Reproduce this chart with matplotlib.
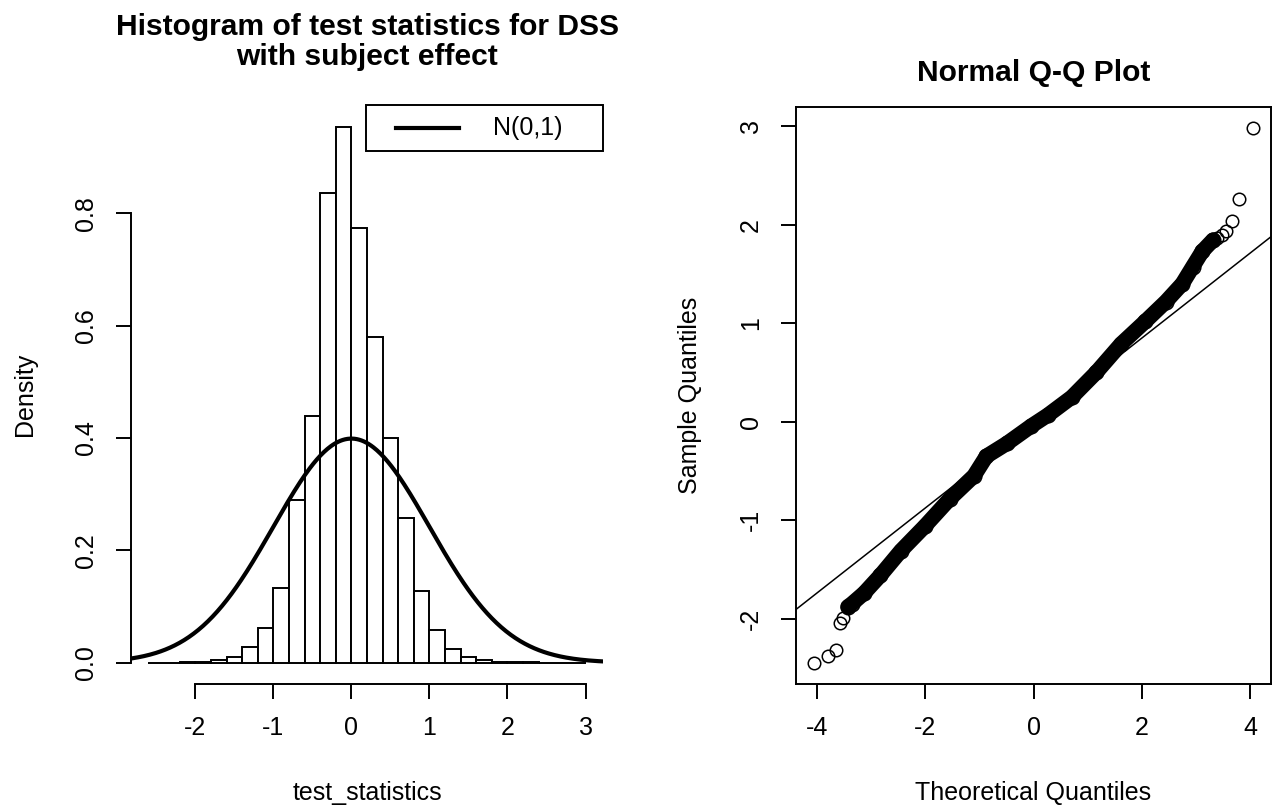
import numpy as np
import matplotlib
matplotlib.use("Agg")
import matplotlib.pyplot as plt
from matplotlib.lines import Line2D
from matplotlib.patches import Rectangle

plt.rcParams['font.family'] = ['Liberation Sans', 'DejaVu Sans']

# histogram of test statistics (density, bin width 0.2)
bin_edges = [-2.6, -2.4, -2.2, -2.0, -1.8, -1.6, -1.4, -1.2, -1.0, -0.8, -0.6, -0.4, -0.2,
             0.0, 0.2, 0.4, 0.6, 0.8, 1.0, 1.2, 1.4, 1.6, 1.8, 2.0, 2.2, 2.4, 2.6, 2.8, 3.0]
densities = [0.0002, 0.0002, 0.0005, 0.0015, 0.004, 0.010, 0.027, 0.061, 0.133, 0.289,
             0.440, 0.836, 0.954, 0.774, 0.580, 0.400, 0.257, 0.128, 0.059, 0.024,
             0.010, 0.004, 0.0015, 0.0007, 0.0004, 0.0002, 0.0001, 0.0001]
norm_mean, norm_sd = 0.0, 1.0

# normal Q-Q plot
band_theo = [-3.43, -3.36, -3.13, -2.83, -2.45, -2.0, -1.55, -1.10, -0.87, -0.49, -0.04,
             0.26, 0.71, 1.16, 1.62, 2.07, 2.45, 2.75, 2.94, 3.12, 3.32]
band_samp = [-1.878, -1.85, -1.74, -1.56, -1.31, -1.056, -0.785, -0.55, -0.35, -0.22, -0.043,
             0.065, 0.25, 0.50, 0.79, 1.02, 1.22, 1.40, 1.57, 1.73, 1.845]
tail_theo = [-4.065, -3.795, -3.65, -3.58, -3.52, -3.43, 3.40, 3.48, 3.556, 3.667, 3.80, 4.065]
tail_samp = [-2.447, -2.379, -2.318, -2.047, -1.996, -1.878, 1.87, 1.90, 1.94, 2.04, 2.258, 2.978]
qq_intercept, qq_slope = -0.014, 0.431

W, H = 1279, 811
fig = plt.figure(figsize=(W / 100, H / 100), dpi=100)

def px_axes(x0, x1, y0, y1):
    return fig.add_axes([x0 / W, 1 - y1 / H, (x1 - x0) / W, (y1 - y0) / H])

FS = 18
TFS = 21.6
LW = 1.4

# ---- left: histogram ----
ax1 = px_axes(131, 603, 105.5, 684)
lefts = bin_edges[:-1]
ax1.bar(lefts, densities, width=0.2, align='edge', facecolor='white',
        edgecolor='black', linewidth=LW)
xs = np.linspace(-2.824, 3.224, 400)
ax1.plot(xs, np.exp(-0.5 * ((xs - norm_mean) / norm_sd) ** 2) / (norm_sd * np.sqrt(2 * np.pi)),
         color='black', linewidth=3.0)
ax1.set_xlim(-2.824, 3.224)
ax1.set_ylim(-0.038, 0.992)
for s in ['top', 'right']:
    ax1.spines[s].set_visible(False)
ax1.spines['bottom'].set_bounds(-2, 3)
ax1.spines['left'].set_bounds(0, 0.8)
for s in ['bottom', 'left']:
    ax1.spines[s].set_linewidth(LW)
ax1.set_xticks([-2, -1, 0, 1, 2, 3])
ax1.set_xticklabels(['-2', '-1', '0', '1', '2', '3'])
ax1.set_yticks([0.0, 0.2, 0.4, 0.6, 0.8])
ax1.set_yticklabels(['0.0', '0.2', '0.4', '0.6', '0.8'], rotation=90, va='center')
ax1.tick_params(axis='both', length=10.8, width=LW, labelsize=FS)
ax1.tick_params(axis='x', pad=12)
ax1.tick_params(axis='y', pad=13)

# legend drawn like R's legend box
ax1.add_patch(Rectangle((0.498, 0.922), 0.502, 0.078, transform=ax1.transAxes,
                        facecolor='white', edgecolor='black', linewidth=LW, clip_on=False, zorder=5))
ax1.add_line(Line2D([0.561, 0.695], [0.961, 0.961], transform=ax1.transAxes,
                    color='black', linewidth=3.0, zorder=6))
ax1.text(0.766, 0.961, 'N(0,1)', transform=ax1.transAxes, fontsize=FS,
         va='center', ha='left', zorder=6)

fig.text(367 / W, 1 - 27 / H, 'Histogram of test statistics for DSS', ha='center',
         va='center', fontsize=TFS, fontweight='bold')
fig.text(367 / W, 1 - 57 / H, 'with subject effect', ha='center', va='center',
         fontsize=TFS, fontweight='bold')
fig.text(367 / W, 1 - 793 / H, 'test_statistics', ha='center', va='center', fontsize=FS)
fig.text(25 / W, 1 - 394 / H, 'Density', ha='center', va='center', fontsize=FS, rotation=90)

# ---- right: normal Q-Q plot ----
ax2 = px_axes(796, 1271, 107, 684.3)
ax2.plot(band_theo, band_samp, color='black', linewidth=11, solid_capstyle='round',
         solid_joinstyle='round')
ax2.plot(band_theo, band_samp, linestyle='none', marker='o', markersize=10.5,
         markerfacecolor='none', markeredgecolor='black', markeredgewidth=1.1)
ax2.plot(tail_theo, tail_samp, linestyle='none', marker='o', markersize=9,
         markerfacecolor='none', markeredgecolor='black', markeredgewidth=1.1)
ax2.axline((0, qq_intercept), slope=qq_slope, color='black', linewidth=1.1)
ax2.set_xlim(-4.39, 4.39)
ax2.set_ylim(-2.666, 3.195)
for s in ax2.spines.values():
    s.set_linewidth(LW)
ax2.set_xticks([-4, -2, 0, 2, 4])
ax2.set_xticklabels(['-4', '-2', '0', '2', '4'])
ax2.set_yticks([-2, -1, 0, 1, 2, 3])
ax2.set_yticklabels(['-2', '-1', '0', '1', '2', '3'], rotation=90, va='center')
ax2.tick_params(axis='both', length=10.8, width=LW, labelsize=FS)
ax2.tick_params(axis='x', pad=12)
ax2.tick_params(axis='y', pad=13)

fig.text(1033.5 / W, 1 - 73 / H, 'Normal Q-Q Plot', ha='center', va='center',
         fontsize=TFS, fontweight='bold')
fig.text(1033.5 / W, 1 - 793 / H, 'Theoretical Quantiles', ha='center', va='center', fontsize=FS)
fig.text(690 / W, 1 - 395 / H, 'Sample Quantiles', ha='center', va='center', fontsize=FS,
         rotation=90)

fig.savefig('out.png', dpi=100)
